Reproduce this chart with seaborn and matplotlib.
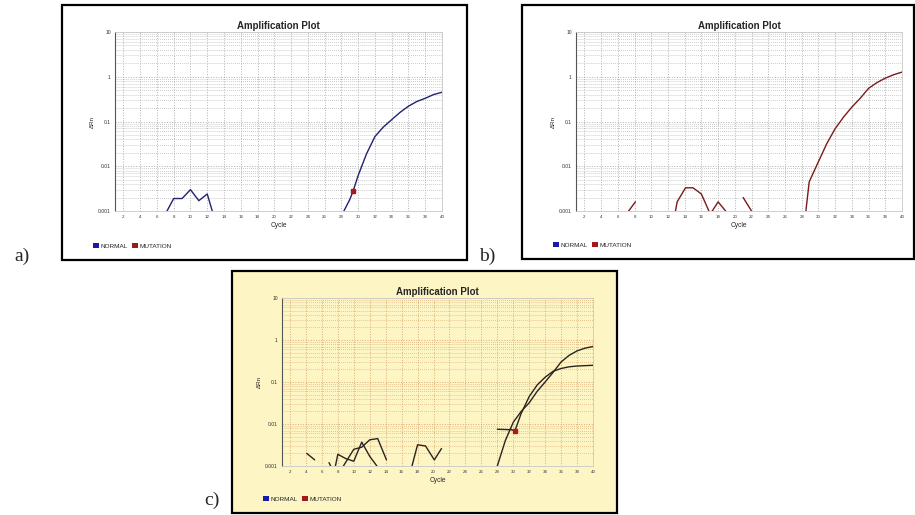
import numpy as np
import pandas as pd
import matplotlib.pyplot as plt
import seaborn as sns
from matplotlib.patches import Rectangle, Patch

# ---- data ----
# panel a (NORMAL, blue)
a_noise_cycle = [7.2, 8, 9, 10, 11, 12, 12.6]
a_noise_rn = [0.001, 0.0019, 0.0019, 0.003, 0.0017, 0.0024, 0.001]
a_amp_cycle = [28.3, 29, 29.4, 30, 31, 32, 33, 34, 35, 36, 37, 38, 39, 40]
a_amp_rn = [0.001, 0.0018, 0.0028, 0.0062, 0.019, 0.046, 0.075, 0.11, 0.16, 0.22, 0.28, 0.33, 0.40, 0.45]
a_ct = (29.4, 0.0028)

# panel b (MUTATION, red)
b_noise1_cycle = [7.3, 8.1]
b_noise1_rn = [0.001, 0.0016]
b_noise2_cycle = [12.9, 13.1, 14.1, 15.0, 16.0, 16.9]
b_noise2_rn = [0.001, 0.0016, 0.0033, 0.0033, 0.0024, 0.001]
b_noise3_cycle = [17.3, 18.0, 18.9]
b_noise3_rn = [0.001, 0.0016, 0.001]
b_noise4_cycle = [21.0, 22.0]
b_noise4_rn = [0.002, 0.001]
b_amp_cycle = [28.5, 28.9, 29.9, 31, 32, 33, 34, 35, 36, 37, 38, 39, 40]
b_amp_rn = [0.001, 0.0045, 0.0115, 0.032, 0.069, 0.125, 0.21, 0.33, 0.55, 0.74, 0.93, 1.11, 1.27]

# panel c (both)
c_noise1_cycle = [4.1, 5.1]
c_noise1_rn = [0.002, 0.0014]
c_noise2_cycle = [6.9, 7.1]
c_noise2_rn = [0.0012, 0.001]
c_noise3_cycle = [7.7, 8.0, 9.0, 10.0, 11.0, 12.0, 12.9]
c_noise3_rn = [0.001, 0.0019, 0.0015, 0.0013, 0.0037, 0.0017, 0.001]
c_noise4_cycle = [8.7, 10.0, 11.0, 12.0, 13.0, 14.1]
c_noise4_rn = [0.001, 0.0025, 0.0028, 0.0042, 0.0045, 0.0014]
c_noise5_cycle = [17.3, 18.0, 19.0, 20.1, 21.0]
c_noise5_rn = [0.001, 0.0032, 0.0030, 0.0014, 0.0026]
c_amp1_cycle = [28, 29, 30, 31, 32, 33, 34, 35, 36, 37, 38, 39, 40]
c_amp1_rn = [0.001, 0.004, 0.011, 0.02, 0.032, 0.06, 0.1, 0.17, 0.3, 0.43, 0.55, 0.64, 0.70]
c_amp2_cycle = [28, 29.8, 30.2, 31, 32, 33, 34, 35, 36, 37, 38, 39, 40]
c_amp2_rn = [0.0075, 0.0073, 0.0068, 0.018, 0.045, 0.085, 0.13, 0.18, 0.21, 0.23, 0.24, 0.245, 0.25]
c_ct = (30.2, 0.0068)

legend_names = ["NORMAL", "MUTATION"]
legend_colors = ["#1a1aa8", "#a01818"]

def segs(panel, pairs):
    rows = []
    for i, (xs, ys) in enumerate(pairs):
        for x, y in zip(xs, ys):
            rows.append({"panel": panel, "seg": i, "cycle": x, "rn": y})
    return rows

df = pd.DataFrame(
    segs("a", [(a_noise_cycle, a_noise_rn), (a_amp_cycle, a_amp_rn)])
    + segs("b", [(b_noise1_cycle, b_noise1_rn), (b_noise2_cycle, b_noise2_rn),
                 (b_noise3_cycle, b_noise3_rn), (b_noise4_cycle, b_noise4_rn),
                 (b_amp_cycle, b_amp_rn)])
    + segs("c", [(c_noise1_cycle, c_noise1_rn), (c_noise2_cycle, c_noise2_rn),
                 (c_noise3_cycle, c_noise3_rn), (c_noise4_cycle, c_noise4_rn),
                 (c_noise5_cycle, c_noise5_rn), (c_amp1_cycle, c_amp1_rn),
                 (c_amp2_cycle, c_amp2_rn)])
)

sns.set_style("white")
plt.rcParams["font.family"] = ["Liberation Sans", "DejaVu Sans"]

W, H = 915, 515
fig = plt.figure(figsize=(W / 100, H / 100), dpi=100)

def fbox(l, t, r, b):
    return [l / W, 1 - b / H, (r - l) / W, (b - t) / H]

panels = {
    "a": dict(box=(62, 5, 467, 260), ax=(115, 32, 442, 211), bg="white",
              grid="#b0b0b0", line="#22226e", ct=a_ct, label=(22, 256)),
    "b": dict(box=(522, 5, 914, 259), ax=(576, 32, 902, 211), bg="white",
              grid="#b0b0b0", line="#7a1a1a", ct=None, label=(487, 256)),
    "c": dict(box=(232, 271, 617, 513), ax=(282, 298, 593, 466), bg="#fdf5c4",
              grid="#dcaa74", line="#2a2420", ct=c_ct, label=(212, 500)),
}

for name, p in panels.items():
    l, t, r, b = p["box"]
    fig.add_artist(Rectangle((l / W, 1 - b / H), (r - l) / W, (b - t) / H,
                             transform=fig.transFigure, facecolor=p["bg"],
                             edgecolor="black", lw=1.6, zorder=-1))
    fig.text(p["label"][0] / W, 1 - p["label"][1] / H, name + ")",
             family="Liberation Serif", fontsize=14, ha="center", va="center")

    ax = fig.add_axes(fbox(*p["ax"]))
    ax.set_facecolor(p["bg"])
    sub = df[df["panel"] == name]
    sns.lineplot(data=sub, x="cycle", y="rn", units="seg", estimator=None,
                 color=p["line"], lw=1.0, ax=ax, legend=False)
    if p["ct"] is not None:
        ax.plot(*p["ct"], marker="s", ms=2.2, color="#b01818", zorder=5)

    ax.set_yscale("log")
    ax.set_xlim(1, 40)
    ax.set_ylim(0.001, 10)
    ax.set_xticks(np.arange(2, 41, 2))
    ax.set_xticklabels([str(v) for v in range(2, 41, 2)], fontsize=3.2)
    ax.set_yticks([0.001, 0.01, 0.1, 1, 10])
    ax.set_yticklabels(["0.001", "0.01", "0.1", "1", "10"], fontsize=3.6)
    ax.tick_params(axis="both", length=1.5, width=0.4, pad=1.5, colors="#333333")
    ax.tick_params(axis="y", which="minor", length=0)
    ax.grid(True, which="major", axis="both", color=p["grid"], ls=":", lw=0.7)
    ax.grid(True, which="minor", axis="y", color=p["grid"], ls=":", lw=0.55)
    for s in ["top", "right", "bottom"]:
        ax.spines[s].set_color("#c8c8c8")
        ax.spines[s].set_linewidth(0.6)
    ax.spines["left"].set_color("#555555")
    ax.spines["left"].set_linewidth(0.8)

    ax.set_title("Amplification Plot", fontsize=7, fontweight="bold", pad=2.5)
    ax.set_xlabel("Cycle", fontsize=4.8, labelpad=2)
    ax.set_ylabel("ΔRn", fontsize=4.5, labelpad=2)

    handles = [Patch(facecolor=c, edgecolor="none") for c in legend_colors]
    lx = (l + 28) / W
    ly = 1 - (b - 14) / H
    ax.legend(handles, legend_names, loc="center left", bbox_to_anchor=(lx, ly),
              bbox_transform=fig.transFigure, ncol=2, frameon=False,
              fontsize=4.6, handlelength=0.9, handleheight=0.9,
              handletextpad=0.3, columnspacing=0.6, borderpad=0)

fig.savefig("out.png", dpi=100)
